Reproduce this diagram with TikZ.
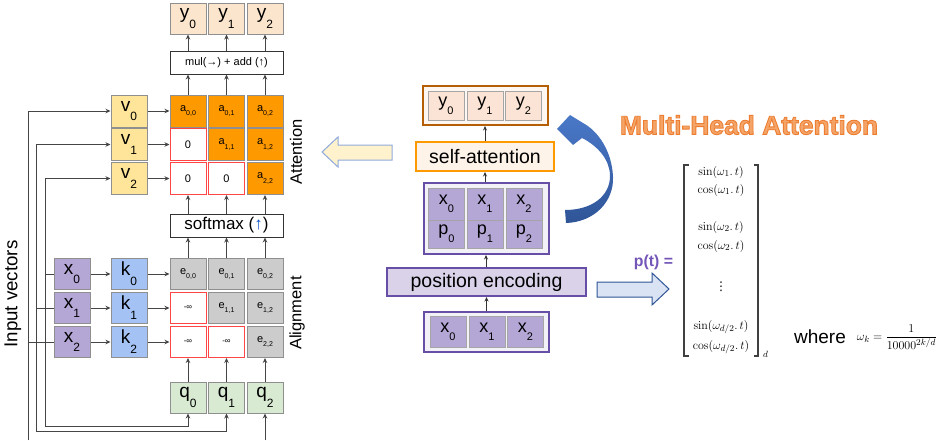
\documentclass[tikz,border=0pt]{standalone}
\usepackage[no-math]{fontspec}
\setmainfont{Liberation Sans}
\newfontfamily\dejavu{DejaVu Sans}
\usepackage{amsmath}
\usetikzlibrary{arrows.meta}
\definecolor{cb}{HTML}{8F8F8F}
\definecolor{yfill}{HTML}{FCE5CD}
\definecolor{aor}{HTML}{FF9900}
\definecolor{vfill}{HTML}{FFE599}
\definecolor{xfill}{HTML}{B4A7D6}
\definecolor{kfill}{HTML}{A4C2F4}
\definecolor{efill}{HTML}{CCCCCC}
\definecolor{qfill}{HTML}{D9EAD3}
\definecolor{redb}{HTML}{FF4545}
\definecolor{lnc}{HTML}{454545}
\definecolor{brownb}{HTML}{B45F06}
\definecolor{purb}{HTML}{674EA7}
\definecolor{pefill}{HTML}{D9D2E9}
\definecolor{pbg}{HTML}{F3F1F8}
\definecolor{safill}{HTML}{FEF3E8}
\definecolor{ybg}{HTML}{FEF6F0}
\definecolor{myfill}{HTML}{FBE4D5}
\definecolor{larfill}{HTML}{FFF2CC}
\definecolor{larb}{HTML}{8FAADC}
\definecolor{rarfill}{HTML}{DAE3F3}
\definecolor{rarb}{HTML}{2F5597}
\definecolor{bluea}{HTML}{4A78C8}
\definecolor{blueb}{HTML}{2F5597}
\definecolor{mho}{HTML}{F5A468}
\definecolor{ptc}{HTML}{7456B8}
\definecolor{upblue}{HTML}{1155CC}
\newcommand\fs[1]{\fontsize{#1}{#1}\selectfont}
\newcommand\bsub[2]{#1\raisebox{-0.52em}{\fs{12}#2}}
\newcommand\msub[2]{#1\raisebox{-0.45em}{\fs{11}#2}}
\newcommand\ssub[2]{#1\raisebox{-0.4em}{\fs{7}#2}}
\newcommand\outlined[1]{\special{pdf:literal direct 2 Tr 0.9 w 0.929 0.490 0.192 RG}#1\special{pdf:literal direct 0 Tr}}
\begin{document}
\begin{tikzpicture}[x=1pt,y=-1pt,
  cell/.style={draw=cb, line width=1pt, minimum width=36pt, minimum height=32pt, inner sep=0pt, font=\fs{19}},
  small/.style={cell, font=\fs{11}},
  ycell/.style={cell, fill=yfill, minimum height=31pt},
  acell/.style={small, fill=aor},
  zcell/.style={small, draw=redb, fill=white},
  ecell/.style={small, fill=efill, minimum height=31pt},
  zecell/.style={small, draw=redb, fill=white, minimum height=31pt},
  vcell/.style={cell, fill=vfill},
  xcell/.style={cell, fill=xfill, minimum height=31pt},
  kcell/.style={cell, fill=kfill, minimum height=31pt},
  qcell/.style={cell, fill=qfill, minimum height=31pt},
  opbox/.style={draw=black!80, line width=1pt, fill=white, minimum width=113pt, minimum height=23pt, inner sep=0pt},
  ln/.style={draw=lnc, line width=1pt},
  arr/.style={ln, -{Stealth[length=5pt,width=4.5pt]}},
  marr/.style={draw=black!80, line width=0.9pt, -{Stealth[length=4.5pt,width=4pt]}},
  mcell/.style={draw=cb!80, line width=1pt, minimum width=36pt, inner sep=0pt, font=\fs{18}},
  ent/.style={inner sep=0pt, font=\fs{13}},
  side/.style={font=\fs{16.5}, rotate=90, inner sep=0pt}
]
\useasboundingbox[fill=white] (0,0) rectangle (945,440);

% ---------------- left: attention layer ----------------
\node[ycell] (y0) at (188,18.5) {\bsub{y}{0}};
\node[ycell] (y1) at (226.5,18.5) {\bsub{y}{1}};
\node[ycell] (y2) at (265,18.5) {\bsub{y}{2}};
\node[opbox, font=\fs{11}] (mul) at (226.5,62.5) {mul(→) + add (↑)};

\node[acell] (a00) at (188,111) {\ssub{a}{0,0}};
\node[acell] (a01) at (226.5,111) {\ssub{a}{0,1}};
\node[acell] (a02) at (265,111) {\ssub{a}{0,2}};
\node[zcell] (a10) at (188,144.5) {0};
\node[acell] (a11) at (226.5,144.5) {\ssub{a}{1,1}};
\node[acell] (a12) at (265,144.5) {\ssub{a}{1,2}};
\node[zcell] (a20) at (188,178.5) {0};
\node[zcell] (a21) at (226.5,178.5) {0};
\node[acell] (a22) at (265,178.5) {\ssub{a}{2,2}};

\node[opbox, font=\fs{17}] (sm) at (226.5,225.5) {softmax (\textcolor{upblue}{↑})};

\node[ecell] (e00) at (188,274) {\ssub{e}{0,0}};
\node[ecell] (e01) at (226.5,274) {\ssub{e}{0,1}};
\node[ecell] (e02) at (265,274) {\ssub{e}{0,2}};
\node[zecell, font=\fs{8}] (e10) at (188,308) {-∞};
\node[ecell] (e11) at (226.5,308) {\ssub{e}{1,1}};
\node[ecell] (e12) at (265,308) {\ssub{e}{1,2}};
\node[zecell, font=\fs{8}] (e20) at (188,342) {-∞};
\node[zecell, font=\fs{8}] (e21) at (226.5,342) {-∞};
\node[ecell] (e22) at (265,342) {\ssub{e}{2,2}};

\node[qcell] (q0) at (188,397.5) {\bsub{q}{0}};
\node[qcell] (q1) at (226.5,397.5) {\bsub{q}{1}};
\node[qcell] (q2) at (265,397.5) {\bsub{q}{2}};

\node[vcell] (v0) at (129,111) {\bsub{v}{0}};
\node[vcell] (v1) at (129,144.5) {\bsub{v}{1}};
\node[vcell] (v2) at (129,178.5) {\bsub{v}{2}};

\node[kcell] (k0) at (129,274) {\bsub{k}{0}};
\node[kcell] (k1) at (129,308) {\bsub{k}{1}};
\node[kcell] (k2) at (129,342) {\bsub{k}{2}};

\node[xcell] (x0) at (72,274) {\bsub{x}{0}};
\node[xcell] (x1) at (72,308) {\bsub{x}{1}};
\node[xcell] (x2) at (72,342) {\bsub{x}{2}};

\node[side] (latt) at (296,152) {Attention};
\node[side] (lali) at (297,313) {Alignment};
\node[font=\fs{18.7}, rotate=90, inner sep=0pt] (linp) at (13,294) {Input vectors};

% input wiring
\coordinate (b0) at (28,440);
\coordinate (c1) at (36,431);
\coordinate (c0) at (45,426);
\coordinate (b2) at (265,440);
\draw[arr] (b0) |- (v0);
\draw[ln] (x2.west -| b0) -- (x2.west);
\draw[arr] (c1) |- (v1);
\draw[arr] (c1) -| (q1);
\draw[ln] (x1.west -| c1) -- (x1.west);
\draw[arr] (c0) |- (v2);
\draw[arr] (c0) -| (q0);
\draw[ln] (x0.west -| c0) -- (x0.west);
\draw[arr] (b2) -- (q2);

\foreach \i in {0,1,2}{
  \draw[arr] (v\i) -- (a\i0);
  \draw[arr] (x\i) -- (k\i);
  \draw[arr] (k\i) -- (e\i0);
  \draw[arr] (q\i) -- (e2\i);
  \draw[arr] (e0\i) -- (e0\i |- sm.south);
  \draw[arr] (sm.north -| a2\i) -- (a2\i);
  \draw[arr] (a0\i) -- (a0\i |- mul.south);
  \draw[arr] (mul.north -| y\i) -- (y\i);
}

% ---------------- middle: stack ----------------
\node[draw=brownb, line width=2pt, fill=ybg, minimum width=125pt, minimum height=39pt] (Yb) at (485.5,105.5) {};
\node[mcell, fill=myfill, minimum height=29pt] (my0) at (446,105.5) {\msub{y}{0}};
\node[mcell, fill=myfill, minimum height=29pt] (my1) at (485,105.5) {\msub{y}{1}};
\node[mcell, fill=myfill, minimum height=29pt] (my2) at (523.5,105.5) {\msub{y}{2}};

\node[draw=aor, line width=2pt, fill=safill, minimum width=138pt, minimum height=29pt, inner sep=0pt, font=\fs{19.5}] (SA) at (485,156.5) {self-attention};

\node[draw=purb, line width=2pt, fill=pbg, minimum width=125pt, minimum height=71pt] (Pb) at (486,218.5) {};
\node[mcell, fill=xfill, minimum height=32pt] (px0) at (446.5,204) {\msub{x}{0}};
\node[mcell, fill=xfill, minimum height=32pt] (px1) at (485,204) {\msub{x}{1}};
\node[mcell, fill=xfill, minimum height=32pt] (px2) at (524,204) {\msub{x}{2}};
\node[mcell, fill=xfill, minimum height=28pt] (pp0) at (446.5,234) {\msub{p}{0}};
\node[mcell, fill=xfill, minimum height=28pt] (pp1) at (485,234) {\msub{p}{1}};
\node[mcell, fill=xfill, minimum height=28pt] (pp2) at (524,234) {\msub{p}{2}};

\node[draw=purb, line width=2pt, fill=pefill, minimum width=199pt, minimum height=28pt, inner sep=0pt, font=\fs{19.5}] (PE) at (486.5,282) {position encoding};

\node[draw=purb, line width=2pt, fill=pbg, minimum width=125pt, minimum height=40pt] (Xb) at (486.5,332) {};
\node[mcell, fill=xfill, minimum height=31pt] (bx0) at (448,332) {\msub{x}{0}};
\node[mcell, fill=xfill, minimum height=31pt] (bx1) at (487,332) {\msub{x}{1}};
\node[mcell, fill=xfill, minimum height=31pt] (bx2) at (525.5,332) {\msub{x}{2}};

\draw[marr] (Xb.north) -- (Xb.north |- PE.south);
\draw[marr] (PE.north -| Pb) -- (Pb.south);
\draw[marr] (Pb.north -| SA) -- (SA.south);
\draw[marr] (SA.north) -- (SA.north |- Yb.south);

% block arrows
\draw[fill=larfill, draw=larb, line width=1pt] (392,145) -- (338,145) -- (338,137) -- (322,152) -- (338,167) -- (338,160) -- (392,160) -- cycle;
\draw[fill=rarfill, draw=rarb, line width=1pt] (597,282) -- (652,282) -- (652,273) -- (669,289) -- (652,305) -- (652,297) -- (597,297) -- cycle;

% curved blue arrow
\shade[top color=bluea, bottom color=blueb]
  (566,223) .. controls (595,222) and (614,201) .. (613,177)
  .. controls (612,151) and (598,131) .. (583,123)
  -- (570,115) -- (557,129) -- (573,145) -- (582,138)
  .. controls (598,146) and (610,160) .. (610,176)
  .. controls (610,196) and (592,210) .. (565,210) -- cycle;

% ---------------- right: formulas ----------------
\node[font=\bfseries\fs{26.4}, text=mho, inner sep=0pt] (mha) at (749,125) {\outlined{Multi-Head Attention}};
\node[font=\bfseries\fs{15.8}, text=ptc, inner sep=0pt] (pt) at (653.5,262) {p(t) =};

\draw[line width=1.1pt, draw=black!75] (688.5,165) -- (684,165) -- (684,356) -- (688.5,356);
\draw[line width=1.1pt, draw=black!75] (753.5,165) -- (758,165) -- (758,356) -- (753.5,356);
\node[ent] (m1) at (721,172) {$\sin(\omega_1.\,t)$};
\node[ent] (m2) at (721,190) {$\cos(\omega_1.\,t)$};
\node[ent] (m3) at (721,227) {$\sin(\omega_2.\,t)$};
\node[ent] (m4) at (721,246) {$\cos(\omega_2.\,t)$};
\node[ent, font=\dejavu\fs{12}] (m5) at (721,287) {⋮};
\node[ent] (m6) at (721,327) {$\sin(\omega_{d/2}.\,t)$};
\node[ent] (m7) at (721,347) {$\cos(\omega_{d/2}.\,t)$};
\node[ent, font=\fs{9}] (md) at (765.5,354) {$d$};

\node[font=\fs{19}, inner sep=0pt] (wh) at (820,337) {where};
\node[ent] (wk) at (897,337) {$\displaystyle \omega_k=\frac{1}{10000^{2k/d}}$};
\end{tikzpicture}
\end{document}
